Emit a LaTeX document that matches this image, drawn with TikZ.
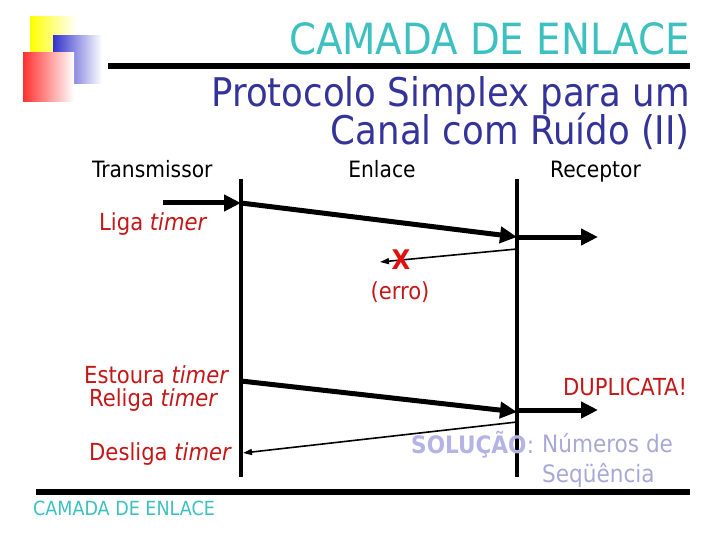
\documentclass[tikz,border=0pt]{standalone}
\usepackage{fontspec}
\setmainfont{DejaVu Sans Condensed}
\usetikzlibrary{arrows.meta}
\definecolor{teal1}{HTML}{3CC0C0}
\definecolor{navy1}{HTML}{333399}
\definecolor{red1}{HTML}{C41818}
\definecolor{red2}{HTML}{E01010}
\definecolor{lav1}{HTML}{B3B3E6}
\definecolor{lav2}{HTML}{A8A8D8}
\definecolor{blue1}{HTML}{3333CC}
\definecolor{redsq}{HTML}{FF3030}
\tikzset{
  txt/.style={inner sep=0pt, font=\fontsize{22.5}{26}\selectfont},
  redtxt/.style={inner sep=0pt, text=red1, font=\fontsize{23.5}{27}\selectfont},
  life/.style={line width=4pt},
  rule/.style={line width=5.5pt},
  thick arrow/.style={line width=5pt, -{Triangle[length=17pt,width=16pt]}},
  thin arrow/.style={line width=1.6pt, -{Triangle[length=9pt,width=6pt]}}
}
\begin{document}
\begin{tikzpicture}[x=1pt,y=-1pt]
\useasboundingbox (0,0) rectangle (720,540);
% decorative squares
\fill[left color=yellow, right color=white] (30,17) rectangle (76,55);
\fill[left color=blue1, right color=white] (53,36) rectangle (102,84);
\fill[left color=redsq, right color=white] (23,53) rectangle (74,102);
% title
\node[anchor=base east, inner sep=0pt, text=teal1, font=\fontsize{43}{50}\selectfont] (title) at (690,55) {CAMADA DE ENLACE};
\draw[rule] (108,66) -- (690,66);
\node[anchor=base east, inner sep=0pt, text=navy1, font=\fontsize{39.5}{45}\selectfont] (sub1) at (690,107) {Protocolo Simplex para um};
\node[anchor=base east, inner sep=0pt, text=navy1, font=\fontsize{39.5}{45}\selectfont] (sub2) at (690,145) {Canal com Ruído (II)};
% headers
\node[txt, anchor=base west] (tx) at (92,178) {Transmissor};
\node[txt, anchor=base] (en) at (382,178) {Enlace};
\node[txt, anchor=base west] (rx) at (550,178) {Receptor};
% lifelines
\coordinate (Lt) at (241,179); \coordinate (Lb) at (241,477);
\coordinate (Rt) at (517,179); \coordinate (Rb) at (517,477);
\draw[life] (Lt) -- (Lb);
\draw[life] (Rt) -- (Rb);
% first frame
\coordinate (a0) at (163,203);
\coordinate (a1) at (241,203);
\coordinate (a2) at (517,237);
\coordinate (a3) at (598,237);
\draw[thick arrow] (a0) -- (a1);
\draw[thick arrow] (a1) -- (a2);
\draw[thick arrow] (a2) -- (a3);
\node[redtxt, anchor=base west] (liga) at (99,230) {Liga \textit{timer}};
% lost ack
\coordinate (b0) at (517,249);
\coordinate (b1) at (380,262);
\draw[thin arrow] (b0) -- (b1);
\node[inner sep=0pt, text=red2, font=\fontsize{27}{30}\selectfont\bfseries] (x) at (401,260) {X};
\node[redtxt, anchor=base] (erro) at (400,299) {(erro)};
% second frame
\coordinate (c1) at (241,381);
\coordinate (c2) at (517,412);
\coordinate (c2b) at (517,410);
\coordinate (c3) at (598,410);
\draw[thick arrow] (c1) -- (c2);
\draw[thick arrow] (c2b) -- (c3);
\node[redtxt, anchor=base west] (est) at (84,383) {Estoura \textit{timer}};
\node[redtxt, anchor=base west] (rel) at (89,406) {Religa \textit{timer}};
\node[redtxt, anchor=base west] (dup) at (563,395) {DUPLICATA!};
% second ack
\coordinate (d0) at (517,422);
\coordinate (d1) at (243,453);
\draw[thin arrow] (d0) -- (d1);
\node[redtxt, anchor=base west] (des) at (89,460) {Desliga \textit{timer}};
% solution
\node[inner sep=0pt, anchor=base west, text=lav1, font=\fontsize{24}{28}\selectfont\bfseries] (sol) at (411,453) {SOLUÇÃO};
\node[inner sep=0pt, anchor=base west, text=lav2, font=\fontsize{24}{28}\selectfont] (colon) at (sol.base east) {:};
\node[inner sep=0pt, anchor=base west, text=lav2, font=\fontsize{24}{28}\selectfont] (num1) at (542,452) {Números de};
\node[inner sep=0pt, anchor=base west, text=lav2, font=\fontsize{24}{28}\selectfont] (num2) at (542,482) {Seqüência};
% bottom
\draw[rule] (36,492) -- (690,492);
\node[inner sep=0pt, anchor=base west, text=teal1, font=\fontsize{19.5}{22}\selectfont] (foot) at (33,515) {CAMADA DE ENLACE};
\end{tikzpicture}
\end{document}
